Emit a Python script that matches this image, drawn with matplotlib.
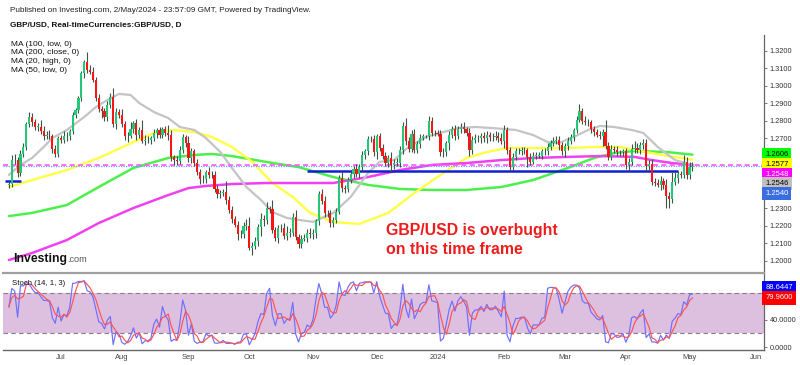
import numpy as np
import pandas as pd
import matplotlib
matplotlib.use("Agg")
import matplotlib.pyplot as plt
from matplotlib.collections import LineCollection
from matplotlib.transforms import blended_transform_factory

plt.rcParams['font.family'] = ['Liberation Sans', 'DejaVu Sans']

# ---------------- data ----------------
start_date = '2023-06-07'
end_date = '2024-05-02'
axis_end_date = '2024-06-28'
first_open = 1.2435

close_jun = [1.2437, 1.2578, 1.2575, 1.2500, 1.2610, 1.2650, 1.2780, 1.2820, 1.2790, 1.2765,
             1.2765, 1.2740, 1.2715, 1.2715, 1.2710, 1.2640, 1.2610, 1.2700]
close_jul = [1.2690, 1.2715, 1.2710, 1.2740, 1.2835, 1.2860, 1.2930, 1.3070, 1.3135, 1.3090,
             1.3080, 1.3035, 1.2930, 1.2865, 1.2855, 1.2820, 1.2890, 1.2935, 1.2780, 1.2850, 1.2835]
close_aug = [1.2780, 1.2710, 1.2715, 1.2750, 1.2785, 1.2720, 1.2745, 1.2685, 1.2690, 1.2690,
             1.2700, 1.2730, 1.2745, 1.2720, 1.2750, 1.2730, 1.2720, 1.2590, 1.2575, 1.2570,
             1.2635, 1.2705, 1.2670]
close_sep = [1.2585, 1.2625, 1.2560, 1.2505, 1.2465, 1.2465, 1.2505, 1.2490, 1.2490, 1.2410,
             1.2380, 1.2385, 1.2395, 1.2345, 1.2290, 1.2240, 1.2205, 1.2150, 1.2150, 1.2200, 1.2200]
close_oct = [1.2075, 1.2085, 1.2115, 1.2190, 1.2240, 1.2235, 1.2300, 1.2295, 1.2175, 1.2130,
             1.2185, 1.2185, 1.2140, 1.2160, 1.2160, 1.2250, 1.2135, 1.2095, 1.2125, 1.2130,
             1.2160, 1.2150]
close_nov = [1.2160, 1.2225, 1.2380, 1.2340, 1.2270, 1.2270, 1.2215, 1.2235, 1.2280, 1.2475,
             1.2415, 1.2410, 1.2460, 1.2495, 1.2525, 1.2495, 1.2535, 1.2605, 1.2625, 1.2695,
             1.2695, 1.2620]
close_dec = [1.2710, 1.2645, 1.2600, 1.2560, 1.2585, 1.2545, 1.2560, 1.2560, 1.2630, 1.2770,
             1.2685, 1.2640, 1.2725, 1.2635, 1.2665, 1.2700, 1.2710, 1.2710, 1.2800, 1.2730, 1.2730]
close_jan = [1.2725, 1.2620, 1.2620, 1.2670, 1.2720, 1.2750, 1.2715, 1.2750, 1.2765, 1.2750,
             1.2730, 1.2630, 1.2690, 1.2700, 1.2700, 1.2710, 1.2700, 1.2720, 1.2705, 1.2705,
             1.2715, 1.2700, 1.2685]
close_feb = [1.2745, 1.2630, 1.2535, 1.2595, 1.2625, 1.2625, 1.2630, 1.2630, 1.2590, 1.2565,
             1.2600, 1.2600, 1.2600, 1.2625, 1.2625, 1.2650, 1.2670, 1.2685, 1.2690, 1.2660, 1.2625]
close_mar = [1.2655, 1.2685, 1.2705, 1.2745, 1.2805, 1.2855, 1.2800, 1.2790, 1.2790, 1.2750,
             1.2735, 1.2720, 1.2715, 1.2735, 1.2655, 1.2595, 1.2640, 1.2635, 1.2620, 1.2620, 1.2625]
close_apr = [1.2545, 1.2565, 1.2640, 1.2645, 1.2635, 1.2660, 1.2675, 1.2540, 1.2550, 1.2450,
             1.2445, 1.2435, 1.2455, 1.2435, 1.2370, 1.2350, 1.2450, 1.2470, 1.2495, 1.2490,
             1.2565, 1.2490]
close_may = [1.2535, 1.2540]

# upper / lower wicks in pips
up_jun = [15, 25, 30, 15, 20, 25, 15, 30, 25, 20, 20, 40, 30, 25, 30, 15, 20, 10]
dn_jun = [20, 15, 25, 20, 15, 20, 20, 15, 20, 20, 25, 15, 25, 20, 15, 25, 20, 15]
up_jul = [20, 25, 20, 10, 15, 15, 10, 15, 10, 55, 30, 25, 15, 20, 20, 15, 20, 25, 50, 20, 15]
dn_jul = [20, 15, 25, 20, 15, 20, 15, 15, 25, 20, 15, 15, 20, 15, 40, 20, 20, 15, 15, 30, 20]
up_aug = [30, 20, 20, 40, 15, 25, 20, 60, 30, 20, 15, 20, 15, 20, 15, 20, 45, 25, 15, 25, 20, 20, 15]
dn_aug = [15, 20, 30, 15, 20, 30, 20, 15, 25, 20, 25, 15, 30, 20, 20, 15, 30, 20, 30, 25, 15, 20, 20]
up_sep = [40, 20, 15, 20, 20, 25, 15, 30, 25, 20, 20, 20, 15, 60, 25, 20, 15, 20, 25, 20, 40]
dn_sep = [20, 25, 20, 15, 25, 20, 20, 20, 15, 20, 20, 20, 15, 20, 20, 25, 15, 30, 20, 20, 25]
up_oct = [50, 20, 20, 20, 30, 20, 35, 15, 50, 20, 20, 25, 30, 40, 25, 20, 40, 20, 20, 20, 20, 25]
dn_oct = [15, 45, 20, 30, 50, 35, 25, 20, 15, 20, 30, 20, 15, 20, 25, 20, 15, 20, 25, 15, 25, 20]
up_nov = [20, 15, 20, 30, 30, 20, 20, 15, 20, 15, 30, 20, 20, 20, 15, 30, 20, 20, 15, 20, 20, 25]
dn_nov = [25, 30, 20, 15, 20, 20, 20, 20, 20, 15, 20, 25, 20, 15, 20, 15, 20, 20, 25, 20, 15, 20]
up_dec = [15, 20, 20, 20, 20, 35, 20, 25, 25, 20, 45, 20, 20, 30, 20, 25, 15, 10, 25, 20, 15]
dn_dec = [40, 20, 20, 20, 25, 40, 20, 20, 25, 20, 25, 20, 20, 20, 20, 20, 10, 10, 20, 20, 20]
up_jan = [15, 20, 25, 15, 20, 20, 25, 20, 20, 25, 15, 30, 20, 25, 20, 20, 25, 20, 15, 25, 25, 20, 30]
dn_jan = [15, 20, 30, 20, 40, 20, 25, 20, 20, 20, 20, 30, 20, 20, 20, 25, 20, 25, 20, 20, 15, 20, 20]
up_feb = [30, 20, 20, 20, 20, 20, 20, 20, 15, 25, 20, 20, 20, 15, 20, 20, 20, 20, 25, 20, 20]
dn_feb = [40, 20, 20, 15, 20, 15, 20, 20, 55, 20, 15, 20, 15, 20, 20, 20, 15, 15, 20, 25, 20]
up_mar = [20, 20, 20, 15, 20, 40, 20, 25, 20, 15, 20, 20, 20, 20, 68, 25, 20, 15, 20, 15, 15]
dn_mar = [30, 20, 20, 20, 15, 15, 20, 15, 20, 20, 20, 15, 20, 60, 15, 20, 20, 20, 20, 20, 20]
up_apr = [20, 20, 25, 40, 30, 20, 20, 20, 25, 30, 25, 20, 30, 20, 30, 20, 55, 35, 20, 20, 40, 25]
dn_apr = [20, 30, 20, 25, 20, 25, 20, 25, 20, 20, 20, 15, 30, 25, 70, 50, 20, 20, 25, 20, 20, 25]
up_may = [30, 25]
dn_may = [25, 20]

# moving averages: (bar index, value)
ma20_idx = [0, 4, 8, 12, 15, 20, 26, 30, 34, 38, 42, 45, 50, 55, 59, 64, 68, 73, 77, 82, 87, 91,
            96, 100, 105, 112, 118, 124, 128, 133, 138, 144, 150, 155, 161, 167, 175, 181, 186,
            190, 195, 200, 204, 209, 215, 219, 224, 230, 236]
ma20_val = [1.2490, 1.2547, 1.2587, 1.2650, 1.2701, 1.2747, 1.2821, 1.2878, 1.2918, 1.2953,
            1.2947, 1.2901, 1.2850, 1.2815, 1.2764, 1.2747, 1.2701, 1.2621, 1.2530, 1.2421,
            1.2347, 1.2278, 1.2244, 1.2233, 1.2222, 1.2273, 1.2364, 1.2501, 1.2565, 1.2575,
            1.2650, 1.2707, 1.2735, 1.2758, 1.2764, 1.2758, 1.2747, 1.2718, 1.2678, 1.2673,
            1.2707, 1.2747, 1.2770, 1.2764, 1.2747, 1.2730, 1.2650, 1.2575, 1.2546]
ma50_idx = [0, 8, 20, 31, 43, 50, 57, 64, 70, 77, 84, 91, 98, 104, 112, 121, 131, 140, 149, 158,
            165, 172, 181, 193, 202, 211, 220, 227, 236]
ma50_val = [1.2421, 1.2461, 1.2518, 1.2587, 1.2678, 1.2730, 1.2747, 1.2735, 1.2707, 1.2650,
            1.2565, 1.2444, 1.2364, 1.2273, 1.2221, 1.2210, 1.2273, 1.2387, 1.2490, 1.2587,
            1.2621, 1.2644, 1.2644, 1.2644, 1.2650, 1.2650, 1.2621, 1.2600, 1.2577]
ma100_idx = [0, 8, 20, 31, 43, 55, 64, 70, 77, 89, 100, 112, 124, 135, 146, 158, 170, 181, 193,
             202, 209, 216, 227, 236]
ma100_val = [1.2255, 1.2273, 1.2318, 1.2421, 1.2530, 1.2587, 1.2604, 1.2610, 1.2598, 1.2564,
             1.2535, 1.2478, 1.2433, 1.2410, 1.2404, 1.2404, 1.2421, 1.2461, 1.2530, 1.2587,
             1.2615, 1.2627, 1.2621, 1.2606]
ma200_idx = [0, 8, 20, 31, 43, 55, 62, 68, 77, 89, 100, 112, 124, 135, 146, 158, 170, 181, 193,
             204, 216, 222, 229, 236]
ma200_val = [1.2004, 1.2044, 1.2118, 1.2215, 1.2301, 1.2375, 1.2415, 1.2427, 1.2438, 1.2444,
             1.2444, 1.2444, 1.2478, 1.2518, 1.2547, 1.2558, 1.2575, 1.2587, 1.2593, 1.2598,
             1.2593, 1.2575, 1.2558, 1.2548]

# drawn horizontal levels: (level, from bar, to bar)
support_lines = [(1.2458, -1.3, 4.2), (1.2514, 102.9, 231.0)]

price_ticks = [1.20, 1.21, 1.22, 1.23, 1.27, 1.28, 1.29, 1.30, 1.31, 1.32]
stoch_ticks = [0, 40]
stoch_labels = [88.6447, 79.96]

legend_lines = ['MA (100, low, 0)', 'MA (200, close, 0)', 'MA (20, high, 0)', 'MA (50, low, 0)']

# ---------------- assemble ----------------
closes = np.array(close_jun + close_jul + close_aug + close_sep + close_oct + close_nov +
                  close_dec + close_jan + close_feb + close_mar + close_apr + close_may)
up_w = np.array(up_jun + up_jul + up_aug + up_sep + up_oct + up_nov + up_dec + up_jan +
                up_feb + up_mar + up_apr + up_may) / 10000.0
dn_w = np.array(dn_jun + dn_jul + dn_aug + dn_sep + dn_oct + dn_nov + dn_dec + dn_jan +
                dn_feb + dn_mar + dn_apr + dn_may) / 10000.0
opens = np.concatenate([[first_open], closes[:-1]])
highs = np.maximum(opens, closes) + up_w
lows = np.minimum(opens, closes) - dn_w
n = len(closes)
xb = np.arange(n)

all_dates = pd.bdate_range(start_date, axis_end_date)

# stochastic (14, 1, 3)
hh = pd.Series(highs).rolling(14, min_periods=1).max().values
ll = pd.Series(lows).rolling(14, min_periods=1).min().values
k_line = 100 * (closes - ll) / (hh - ll)
d_line = pd.Series(k_line).rolling(3, min_periods=1).mean().values

# ---------------- figure ----------------
W, H = 800, 365
fig = plt.figure(figsize=(W / 100, H / 100), dpi=100)
fig.patch.set_facecolor('white')

ax_left, ax_right = 3 / W, 764 / W
ax = fig.add_axes([ax_left, 1 - 272 / H, ax_right - ax_left, (272 - 35) / H])
axs = fig.add_axes([ax_left, 1 - 350 / H, ax_right - ax_left, (350 - 273) / H])

x_lo, x_hi = -2.04, 260.7
ax.set_xlim(x_lo, x_hi)
axs.set_xlim(x_lo, x_hi)
ax.set_ylim(1.19354, 1.32897)
axs.set_ylim(-4.44, 109.6)

# MA lines
line_kw = dict(zorder=2, solid_capstyle='round', solid_joinstyle='round')
ax.plot(ma100_idx, ma100_val, color='#4cf04c', lw=1.8, **line_kw)
ax.plot(ma50_idx, ma50_val, color='#ffff44', lw=1.7, **line_kw)
ax.plot(ma200_idx, ma200_val, color='#f040f0', lw=1.8, **line_kw)
ax.plot(ma20_idx, ma20_val, color='#c4c4c4', lw=1.6, **line_kw)

# horizontal reference lines
ax.axhline(ma200_val[-1], color='#ff55ff', lw=1.2, ls=(0, (3, 2)), zorder=2.5)
ax.axhline(closes[-1], color='#7799ff', lw=0.9, ls=(0, (1, 1)), zorder=2.5)
for lvl, a, b in support_lines:
    ax.plot([a, b], [lvl, lvl], color='#1020d0', lw=1.8, zorder=2.6, solid_capstyle='butt')

# candles
up = closes >= opens
wick_col = '#3c5446'
segs = [[(i, lows[i]), (i, highs[i])] for i in range(n)]
ax.add_collection(LineCollection(segs, colors=wick_col, linewidths=0.8, zorder=3))
body_bottom = np.minimum(opens, closes)
body_h = np.maximum(np.abs(closes - opens), 0.00025)
ax.bar(xb[up], body_h[up], bottom=body_bottom[up], width=0.75, color='#22c777',
       edgecolor='none', zorder=4)
ax.bar(xb[~up], body_h[~up], bottom=body_bottom[~up], width=0.75, color='#ff1414',
       edgecolor='none', zorder=4)

# axes styling
for a in (ax, axs):
    for s in ('left', 'top', 'bottom'):
        a.spines[s].set_visible(False)
    a.spines['right'].set_color('#666666')
    a.spines['right'].set_linewidth(0.9)
    a.yaxis.tick_right()
    a.tick_params(axis='y', direction='out', length=2.5, width=0.6, color='#666666',
                  labelsize=5.3, labelcolor='#333333', pad=1.5)
ax.set_xticks([])
ax.set_yticks(price_ticks)
ax.set_yticklabels([f'{v:.4f}' for v in price_ticks])

axs.spines['top'].set_visible(True)
axs.spines['top'].set_color('#a0a0a0')
axs.spines['top'].set_linewidth(1.6)
axs.spines['bottom'].set_visible(True)
axs.spines['bottom'].set_color('#666666')
axs.spines['bottom'].set_linewidth(1.0)
axs.set_yticks(stoch_ticks)
axs.set_yticklabels([f'{v:.4f}' for v in stoch_ticks])

# month ticks
m_pos, m_lab = [], []
for i in range(1, len(all_dates)):
    if all_dates[i].month != all_dates[i - 1].month:
        m_pos.append(i)
        d = all_dates[i]
        m_lab.append(str(d.year) if d.month == 1 else d.strftime('%b'))
axs.set_xticks(m_pos)
axs.set_xticklabels(m_lab)
axs.tick_params(axis='x', length=0, labelsize=5.4, labelcolor='#444444', pad=3)

# stochastic panel
axs.axhspan(20, 80, color='#ddc0df', zorder=0, lw=0)
axs.axhline(80, color='#8a7a8a', lw=0.8, ls=(0, (4, 3)), zorder=1)
axs.axhline(20, color='#8a7a8a', lw=0.8, ls=(0, (4, 3)), zorder=1)
axs.plot(xb, k_line, color='#6e6eff', lw=0.85, zorder=3)
axs.plot(xb, d_line, color='#ff5252', lw=0.85, zorder=3)
axs.text(0.012, 0.86, 'Stoch (14, 1, 3)', transform=axs.transAxes, fontsize=5.6,
         color='#111111', va='center', ha='left')

# right-side value labels (main)
tr = blended_transform_factory(ax.transAxes, ax.transData)
labels_main = [
    (ma100_val[-1], '#00ff00', 'black'),
    (ma50_val[-1], '#ffff00', 'black'),
    (ma200_val[-1], '#ff00ff', 'white'),
    (ma20_val[-1], '#c0c0c0', 'black'),
    (closes[-1], '#3a6ee0', 'white'),
]
gap = 0.00555
prev = None
for val, bg, fg in labels_main:
    ypos = val if prev is None else min(val, prev - gap)
    prev = ypos
    ax.text(1.0015, ypos, f'{val:.4f}', transform=tr, fontsize=5.5, color=fg,
            va='center', ha='left', clip_on=False, zorder=10,
            bbox=dict(boxstyle='square,pad=0.4', fc=bg, ec='none'))

trs = blended_transform_factory(axs.transAxes, axs.transData)
prev = None
for val, bg in zip(stoch_labels, ['#0000ff', '#ff0000']):
    ypos = val if prev is None else min(val, prev - 16.0)
    prev = ypos
    axs.text(1.0015, ypos, f'{val:.4f}', transform=trs, fontsize=5.5, color='white',
             va='center', ha='left', clip_on=False, zorder=10,
             bbox=dict(boxstyle='square,pad=0.4', fc=bg, ec='none'))

# header
fig.text(10 / W, 1 - 10 / H, 'Published on Investing.com, 2/May/2024 - 23:57:09 GMT, Powered by TradingView.',
         fontsize=5.9, color='#222222', va='center', ha='left')
fig.text(10 / W, 1 - 25 / H, 'GBP/USD, Real-timeCurrencies:GBP/USD, D',
         fontsize=5.9, color='#111111', va='center', ha='left', fontweight='bold')
for j, t in enumerate(legend_lines):
    fig.text(11 / W, 1 - (44 + j * 8.7) / H, t, fontsize=6.0, color='#111111',
             va='center', ha='left')

# logo
fig.text(13 / W, 1 - 259 / H, 'Investing', fontsize=8.8, fontweight='bold', color='#111111',
         va='center', ha='left')
fig.text(67 / W, 1 - 260 / H, '.com', fontsize=6.6, color='#555555', va='center', ha='left')

# annotation
fig.text(386 / W, 1 - 231 / H, 'GBP/USD is overbught', fontsize=11.4, fontweight='bold',
         color='#ee1c1c', va='center', ha='left')
fig.text(386 / W, 1 - 250 / H, 'on this time frame', fontsize=11.4, fontweight='bold',
         color='#ee1c1c', va='center', ha='left')

fig.savefig('out.png', dpi=100, facecolor='white')
